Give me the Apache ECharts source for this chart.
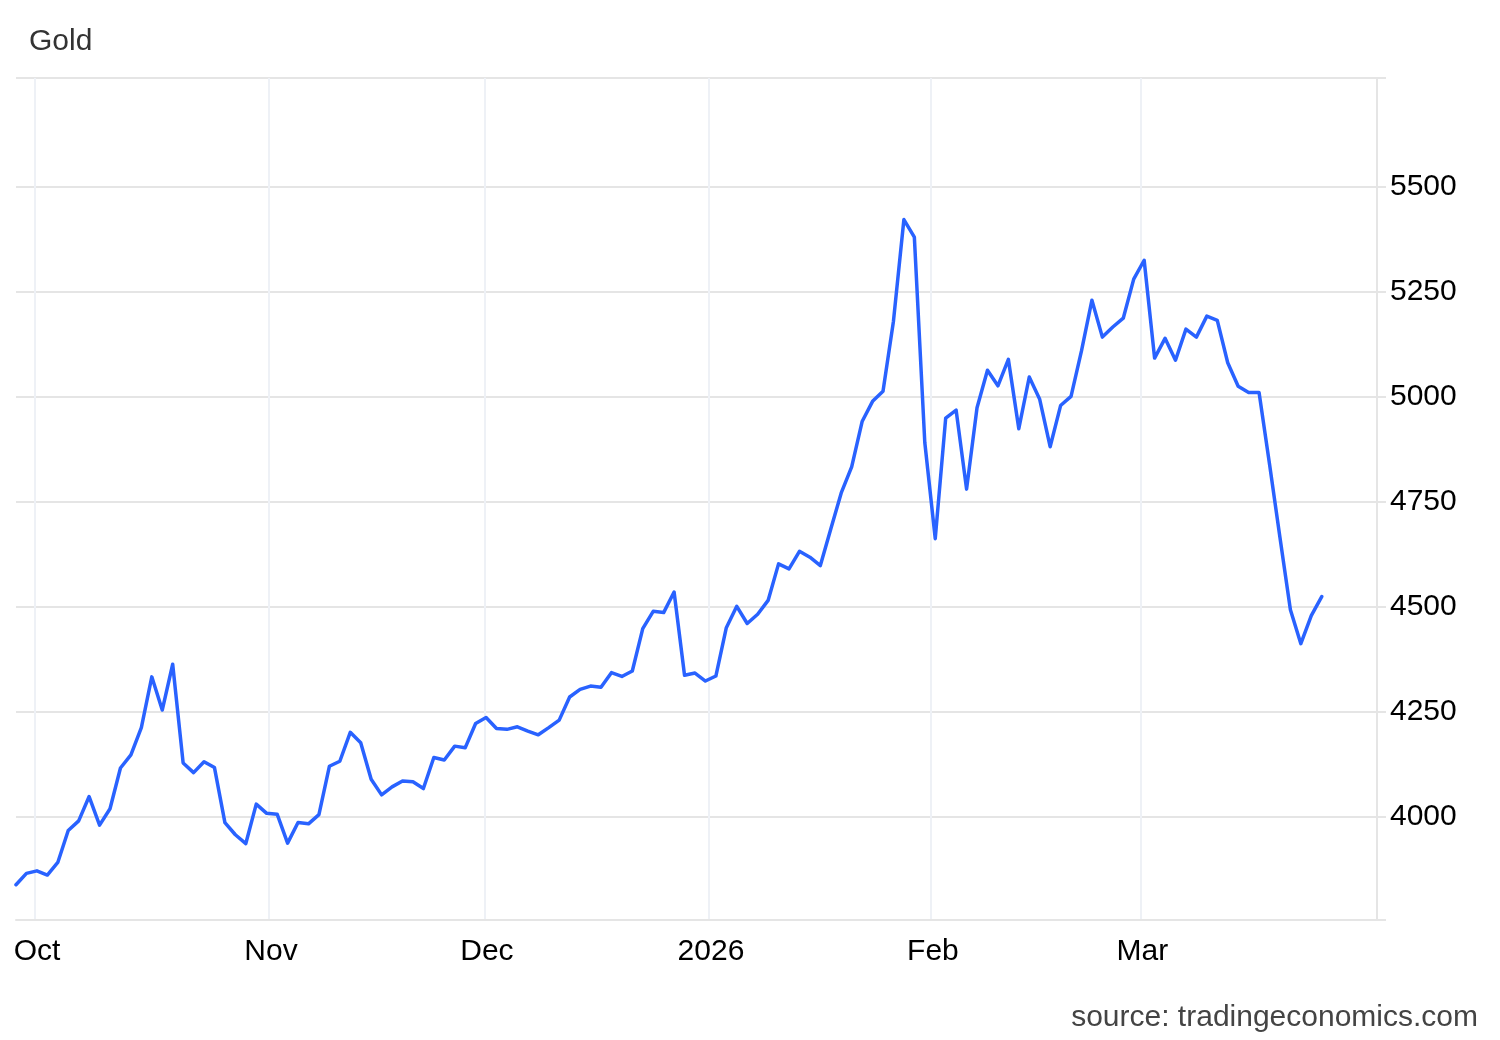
<!DOCTYPE html>
<html>
<head>
<meta charset="utf-8">
<script src="https://cdn.jsdelivr.net/npm/echarts@6/dist/echarts.min.js"></script>
<style>
  html, body { margin: 0; padding: 0; background: #ffffff; }
  #chart { width: 1500px; height: 1040px; }
</style>
</head>
<body>
<div id="chart"></div>
<script>
// Daily gold price (one value per trading session, evenly spaced)
const goldValues = [
  3838, 3865, 3871, 3861, 3891, 3967, 3990, 4048, 3980, 4019,
  4116, 4147, 4212, 4333, 4254, 4363, 4128, 4105, 4131, 4117,
  3986, 3957, 3936, 4030, 4008, 4006, 3937, 3986, 3983, 4005,
  4120, 4132, 4201, 4176, 4089, 4052, 4071, 4085, 4083, 4067,
  4141, 4135, 4168, 4164, 4222, 4236, 4210, 4208, 4214, 4204,
  4195, 4212, 4230, 4285, 4303, 4311, 4308, 4343, 4334, 4347,
  4448, 4489, 4486, 4535, 4337, 4342, 4323, 4335, 4450, 4501,
  4460, 4482, 4515, 4602, 4590, 4632, 4618, 4598, 4685, 4771,
  4833, 4941, 4989, 5013, 5180, 5422, 5380, 4891, 4662, 4949,
  4968, 4780, 4974, 5063, 5026, 5089, 4924, 5047, 4994, 4881,
  4979, 5001, 5109, 5230, 5142, 5166, 5187, 5280, 5325, 5092,
  5139, 5087, 5161, 5142, 5192, 5182, 5081, 5025, 5010, 5010,
  4840, 4665, 4493, 4412, 4479, 4524
];

// Month boundaries, expressed in session positions along the x axis
const monthPositions = [1.82, 24.22, 44.89, 66.34, 87.59, 107.64];
const monthLabels = ['Oct', 'Nov', 'Dec', '2026', 'Feb', 'Mar'];

// Price axis
const yTickValues = [4000, 4250, 4500, 4750, 5000, 5250, 5500];
const yMin = 3754;
const yMax = 5759;
const xMax = 130.29;

const titleText = 'Gold';
const sourceText = 'source: tradingeconomics.com';

const seriesData = goldValues.map((v, i) => [i, v]);

const FONT = '"Liberation Sans", Arial, sans-serif';
const LINE_BLUE = '#2962ff';
const GRID_GRAY = '#e5e5e5';

const chart = echarts.init(document.getElementById('chart'), null, { renderer: 'canvas' });

chart.setOption({
  animation: false,
  backgroundColor: '#ffffff',
  title: {
    text: titleText,
    left: 24,
    top: 22,
    textStyle: { fontFamily: FONT, fontSize: 30, fontWeight: 'normal', color: '#333333' }
  },
  graphic: [{
    type: 'text',
    right: 22,
    top: 1003,
    style: {
      text: sourceText,
      fontFamily: FONT,
      fontSize: 30,
      fill: '#444444'
    }
  }],
  grid: {
    left: 16,
    right: 123,
    top: 78,
    bottom: 120,
    outerBoundsMode: 'none'
  },
  xAxis: {
    type: 'value',
    min: 0,
    max: xMax,
    axisLine: { show: true, onZero: false, lineStyle: { color: GRID_GRAY, width: 2 } },
    axisTick: { show: false, customValues: monthPositions },
    axisLabel: {
      customValues: monthPositions,
      margin: 17,
      padding: [0, 0, 0, 4],
      fontFamily: FONT,
      fontSize: 30,
      color: '#000000',
      formatter: function (v) {
        for (let k = 0; k < monthPositions.length; k++) {
          if (Math.abs(monthPositions[k] - v) < 1e-6) return monthLabels[k];
        }
        return '';
      }
    },
    splitLine: { show: true, lineStyle: { color: '#eef1f6', width: 2 } }
  },
  yAxis: {
    type: 'value',
    position: 'right',
    min: yMin,
    max: yMax,
    axisLine: { show: true, onZero: false, lineStyle: { color: GRID_GRAY, width: 2 } },
    axisTick: {
      show: true,
      inside: false,
      length: 9,
      customValues: [yMin].concat(yTickValues, [yMax]),
      lineStyle: { color: GRID_GRAY, width: 2 }
    },
    axisLabel: {
      customValues: yTickValues,
      margin: 13,
      fontFamily: FONT,
      fontSize: 30,
      color: '#000000',
      formatter: function (v) { return String(v); }
    },
    splitLine: { show: true, lineStyle: { color: GRID_GRAY, width: 2 } }
  },
  series: [{
    type: 'line',
    data: seriesData,
    showSymbol: false,
    symbol: 'none',
    z: 5,
    lineStyle: { color: LINE_BLUE, width: 3.5, join: 'round', cap: 'round' },
    itemStyle: { color: LINE_BLUE }
  }]
});
</script>
</body>
</html>
